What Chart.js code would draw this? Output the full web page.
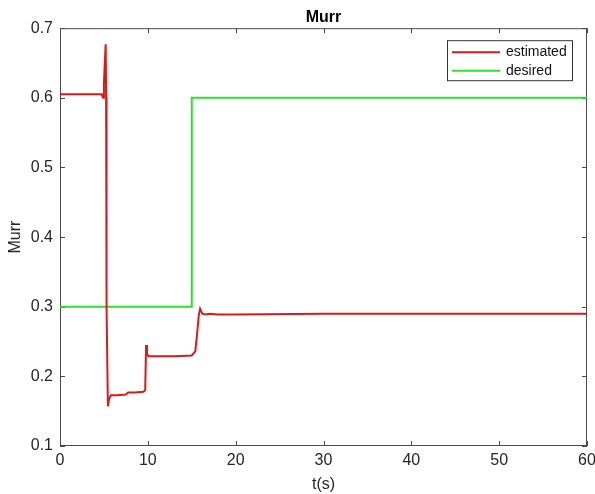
<!DOCTYPE html>
<html><head><meta charset="utf-8">
<script src="https://cdn.jsdelivr.net/npm/chart.js@4.4.1/dist/chart.umd.min.js"></script>
<style>html,body{margin:0;padding:0;background:#fff;}#wrap{width:595px;height:494px;}</style>
</head><body><div id="wrap"><canvas id="c" width="595" height="494"></canvas></div>
<script>
const chartTitle = "Murr";
const xTitle = "t(s)";
const yTitle = "Murr";
const xTicks = [0, 10, 20, 30, 40, 50, 60];
const yTicks = [0.1, 0.2, 0.3, 0.4, 0.5, 0.6, 0.7];
const seriesNames = ["estimated", "desired"];

// estimated
const estT = [0, 4.75, 4.9, 5.0, 5.1, 5.2, 5.25, 5.3, 5.45, 5.6, 5.8, 6.5, 7.5, 7.75, 7.9, 8.5, 9.5, 9.7, 9.8, 9.9, 10.1, 10.4, 11, 13, 15, 15.4, 15.6, 15.8, 15.95, 16.2, 16.6, 17, 18, 20, 30, 40, 50, 60];
const estY = [0.605, 0.605, 0.6, 0.62, 0.65, 0.677, 0.6, 0.3, 0.157, 0.168, 0.173, 0.173, 0.174, 0.177, 0.177, 0.177, 0.178, 0.18, 0.245, 0.232, 0.229, 0.229, 0.229, 0.229, 0.23, 0.236, 0.26, 0.288, 0.297, 0.29, 0.289, 0.29, 0.289, 0.289, 0.29, 0.29, 0.29, 0.29];
// desired
const desT = [0, 15, 15, 60];
const desY = [0.3, 0.3, 0.6, 0.6];

const colors = ["#d81a1a", "#2ee02e"];
const FONT = "'Liberation Sans', Arial, Helvetica, sans-serif";

const toXY = (t, y) => t.map((v, i) => ({x: v, y: y[i]}));

const boxPlugin = {
  id: 'box',
  afterLayout(chart) {
    const t = chart.titleBlock, a = chart.chartArea;
    if (t) { t.left = a.left; t.right = a.right; t.width = a.right - a.left; }
  },
  beforeDatasetsDraw(chart) {
    const {ctx, chartArea: a, scales: {x, y}} = chart;
    ctx.save();
    ctx.strokeStyle = '#4a4a4a';
    ctx.lineWidth = 1;
    ctx.strokeRect(a.left + 0.5, a.top + 0.5, a.right - a.left - 1, a.bottom - a.top - 1);
    const L = 5;
    ctx.beginPath();
    xTicks.forEach(v => {
      const px = Math.round(x.getPixelForValue(v)) + 0.5;
      ctx.moveTo(px, a.bottom); ctx.lineTo(px, a.bottom - L);
      ctx.moveTo(px, a.top); ctx.lineTo(px, a.top + L);
    });
    yTicks.forEach(v => {
      const py = Math.round(y.getPixelForValue(v)) + 0.5;
      ctx.moveTo(a.left, py); ctx.lineTo(a.left + L, py);
      ctx.moveTo(a.right, py); ctx.lineTo(a.right - L, py);
    });
    ctx.stroke();
    ctx.restore();
  },
  afterDraw(chart) {
    const {ctx, chartArea: a} = chart;
    const w = 126, h = 41;
    const lx = a.right - 14 - w, ly = a.top + 12;
    ctx.save();
    ctx.fillStyle = '#fff';
    ctx.fillRect(lx, ly, w, h);
    ctx.strokeStyle = '#333';
    ctx.lineWidth = 1;
    ctx.strokeRect(lx + 0.5, ly + 0.5, w - 1, h - 1);
    ctx.font = "14px " + FONT;
    ctx.textBaseline = 'middle';
    ctx.fillStyle = '#111';
    chart.data.datasets.forEach((ds, i) => {
      const cy = ly + 12 + i * 18.5;
      ctx.strokeStyle = ds.borderColor;
      ctx.lineWidth = 2;
      ctx.beginPath();
      ctx.moveTo(lx + 5, cy); ctx.lineTo(lx + 53, cy);
      ctx.stroke();
      ctx.fillText(ds.label, lx + 59, cy);
    });
    ctx.restore();
  }
};

new Chart(document.getElementById('c'), {
  type: 'scatter',
  data: {
    datasets: [
      {label: seriesNames[0], data: toXY(estT, estY), showLine: true, borderColor: colors[0], backgroundColor: colors[0], borderWidth: 2, pointRadius: 0, tension: 0},
      {label: seriesNames[1], data: toXY(desT, desY), showLine: true, borderColor: colors[1], backgroundColor: colors[1], borderWidth: 2, pointRadius: 0, tension: 0}
    ]
  },
  options: {
    responsive: false,
    animation: false,
    devicePixelRatio: 1,
    layout: {padding: {left: 0, right: 0, top: 0, bottom: 0}},
    plugins: {
      legend: {display: false},
      tooltip: {enabled: false},
      title: {display: true, text: chartTitle, color: '#000', font: {family: FONT, size: 16, weight: 'bold'}, padding: {top: 8, bottom: 1}}
    },
    scales: {
      x: {
        type: 'linear', min: 0, max: 60,
        grid: {display: false, drawTicks: false},
        border: {display: false},
        afterBuildTicks: s => { s.ticks = xTicks.map(v => ({value: v})); },
        afterFit: s => { s.height = 48; s.paddingRight = 8; s.paddingLeft = 0; },
        ticks: {font: {family: FONT, size: 16}, color: '#262626', padding: 5, maxRotation: 0, callback: v => String(v)},
        title: {display: true, text: xTitle, color: '#262626', font: {family: FONT, size: 16}, padding: {top: 0, bottom: 0}}
      },
      y: {
        type: 'linear', min: 0.1, max: 0.7,
        grid: {display: false, drawTicks: false},
        border: {display: false},
        afterBuildTicks: s => { s.ticks = yTicks.map(v => ({value: v})); },
        afterFit: s => { s.width = 60; },
        ticks: {font: {family: FONT, size: 16}, color: '#262626', padding: 7, callback: v => String(v)},
        title: {display: true, text: yTitle, color: '#262626', font: {family: FONT, size: 16}, padding: {top: 6, bottom: 0}}
      }
    }
  },
  plugins: [boxPlugin]
});
</script></body></html>
